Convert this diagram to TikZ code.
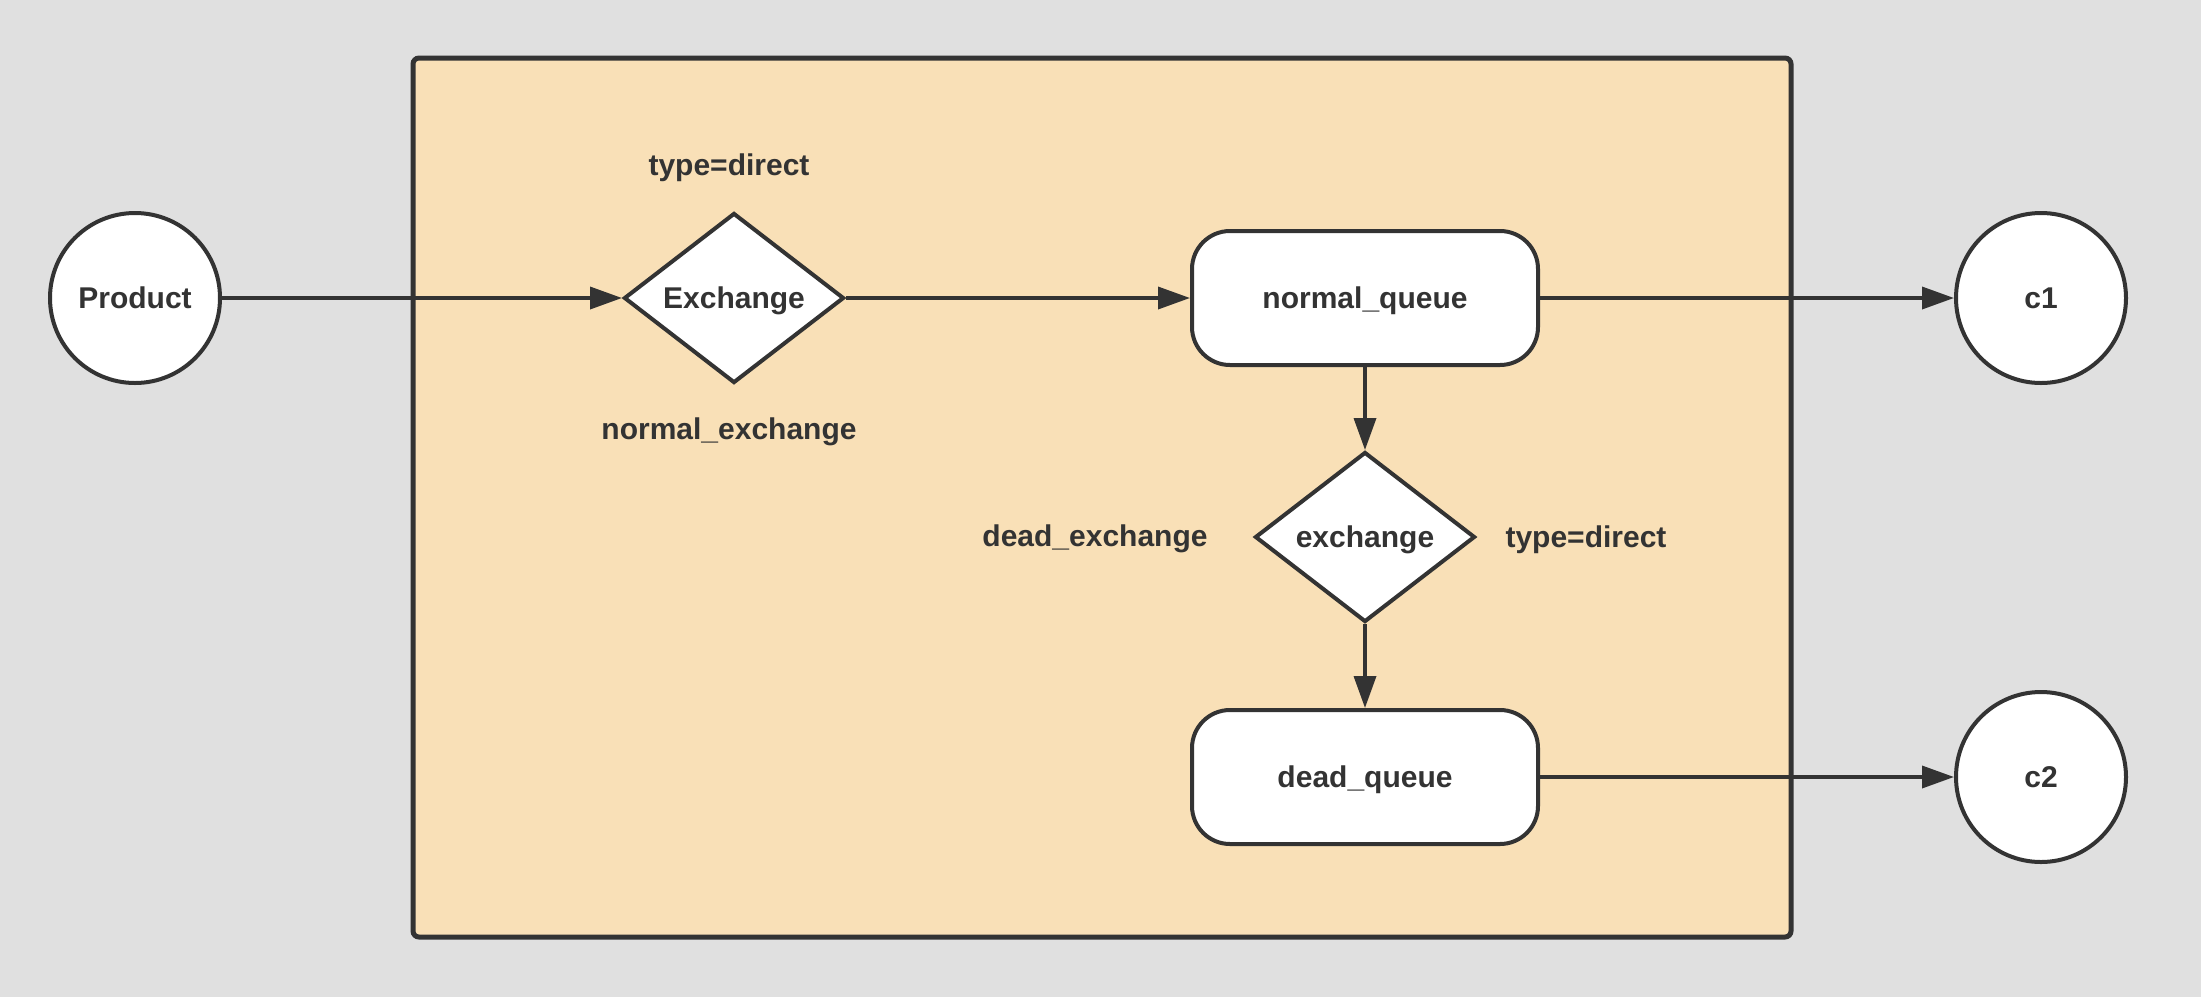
\documentclass[tikz,border=0pt]{standalone}
\usepackage{fontspec}
\setmainfont{Liberation Sans}
\usetikzlibrary{shapes.geometric,arrows.meta}
\definecolor{bgc}{HTML}{E0E0E0}
\definecolor{boxc}{HTML}{F9E0B7}
\definecolor{ink}{HTML}{333333}
\begin{document}
\begin{tikzpicture}[x=0.5pt,y=-0.5pt,
  every node/.style={font=\fontsize{15pt}{18pt}\selectfont\bfseries, text=ink},
  circ/.style={circle, draw=ink, line width=2pt, fill=white, minimum size=85pt, inner sep=0pt, text depth=0pt},
  dia/.style={diamond, draw=ink, line width=2pt, fill=white, minimum width=110pt, minimum height=85pt, inner sep=0pt, aspect=1.3, text depth=0pt},
  queue/.style={rectangle, rounded corners=19pt, draw=ink, line width=2pt, fill=white, minimum width=173pt, minimum height=67pt, inner sep=0pt, text depth=0pt},
  lbl/.style={inner sep=0pt},
  conn/.style={draw=ink, line width=1.8pt, -{Triangle[length=16pt,width=11pt]}}
]
\useasboundingbox (0,0) rectangle (2201,997);
\fill[bgc] (0,0) rectangle (2201,997);
\draw[draw=ink, fill=boxc, line width=2.5pt, rounded corners=3pt] (413,58) rectangle (1791,937);

\node[circ] (product) at (135,298) {Product};
\node[dia] (ex) at (734,298) {Exchange};
\node[queue] (nq) at (1365,298) {normal\_queue};
\node[circ] (c1) at (2041,298) {c1};
\node[dia] (dex) at (1365,537) {exchange};
\node[queue] (dq) at (1365,777) {dead\_queue};
\node[circ] (c2) at (2041,777) {c2};

\node[lbl] (t1) at (729,168) {type=direct};
\node[lbl] (t2) at (729,432) {normal\_exchange};
\node[lbl] (t3) at (1095,539) {dead\_exchange};
\node[lbl] (t4) at (1586,540) {type=direct};

\draw[conn] (product.east) -- (ex.west);
\draw[conn] (ex.east) -- (nq.west);
\draw[conn] (nq.east) -- (c1.west);
\draw[conn] (nq.south) -- (dex.north);
\draw[conn] (dex.south) -- (dq.north);
\draw[conn] (dq.east) -- (c2.west);
\end{tikzpicture}
\end{document}
